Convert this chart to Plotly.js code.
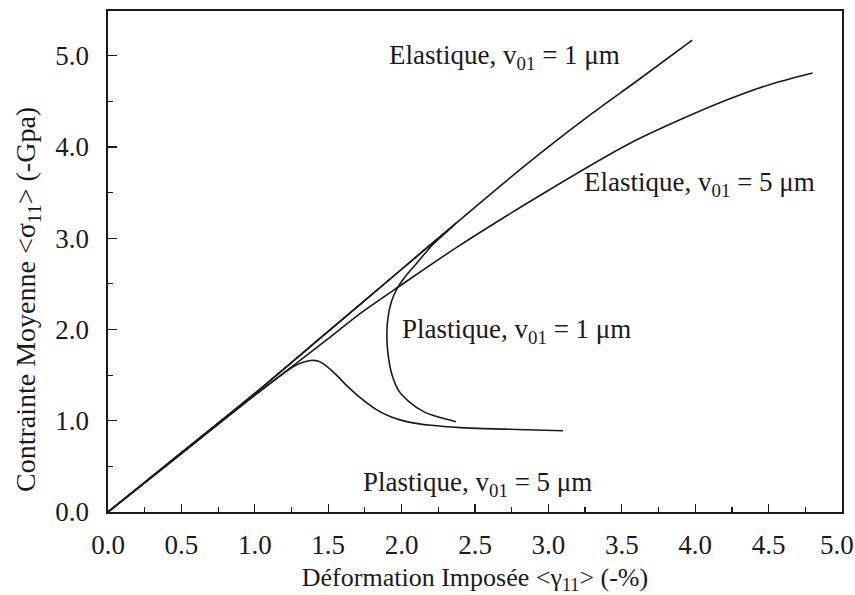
<!DOCTYPE html>
<html>
<head>
<meta charset="utf-8">
<script src="https://cdn.plot.ly/plotly-3.0.1.min.js"></script>
<style>html,body{margin:0;padding:0;background:#fff;}#chart{width:855px;height:595px;}</style>
</head>
<body>
<div id="chart"></div>
<script>
// Elastique, v01 = 1 µm
const elast1X = [0, 0.5, 1.0, 1.5, 2.0, 2.375, 2.7, 3.0, 3.3, 3.6, 3.98];
const elast1Y = [0, 0.65, 1.3, 1.98, 2.66, 3.17, 3.61, 4.0, 4.37, 4.72, 5.17];
// Elastique, v01 = 5 µm
const elast5X = [0, 0.5, 1.0, 1.26, 1.5, 1.74, 2.0, 2.375, 2.965, 3.556, 3.9, 4.24, 4.5, 4.8];
const elast5Y = [0, 0.64, 1.28, 1.6, 1.9, 2.2, 2.49, 2.9, 3.49, 4.04, 4.3, 4.53, 4.68, 4.81];
// Plastique, v01 = 1 µm
const plast1X = [0, 0.5, 1.0, 1.5, 2.0, 2.375, 2.3, 2.2, 2.1, 2.02, 1.97, 1.93, 1.905, 1.9, 1.91, 1.935, 1.98, 2.05, 2.15, 2.25, 2.37];
const plast1Y = [0, 0.65, 1.3, 1.98, 2.66, 3.17, 3.06, 2.91, 2.72, 2.57, 2.45, 2.3, 2.1, 1.9, 1.7, 1.5, 1.33, 1.21, 1.1, 1.04, 0.99];
// Plastique, v01 = 5 µm
const plast5X = [0, 0.5, 1.0, 1.26, 1.32, 1.38, 1.43, 1.48, 1.55, 1.63, 1.72, 1.82, 1.93, 2.05, 2.2, 2.4, 2.7, 3.1];
const plast5Y = [0, 0.64, 1.28, 1.59, 1.635, 1.66, 1.655, 1.61, 1.51, 1.38, 1.25, 1.13, 1.04, 0.985, 0.95, 0.925, 0.908, 0.89];

// x tick labels (the last one, at the plot's right edge, is drawn right-aligned so it stays on the page)
const xTickVals = [0, 0.5, 1.0, 1.5, 2.0, 2.5, 3.0, 3.5, 4.0, 4.5];
const xLastTick = '5.0';

const labelText = ["Elastique, v<sub>01</sub> = 1 μm", "Elastique, v<sub>01</sub> = 5 μm", "Plastique, v<sub>01</sub> = 1 μm", "Plastique, v<sub>01</sub> = 5 μm"];
const labelX = [2.70, 4.03, 2.78, 2.52];
const labelY = [4.99, 3.59, 1.98, 0.31];
const xTitle = 'Déformation Imposée &lt;γ<sub>11</sub>&gt; (-%)';
const yTitle = 'Contrainte Moyenne &lt;σ<sub>11</sub>&gt; (-Gpa)';

const lineStyle = {color: '#1a1a1a', width: 1.6, shape: 'spline', smoothing: 0.8};
const traces = [
  {x: elast1X, y: elast1Y, mode: 'lines', line: lineStyle, name: labelText[0]},
  {x: elast5X, y: elast5Y, mode: 'lines', line: lineStyle, name: labelText[1]},
  {x: plast1X, y: plast1Y, mode: 'lines', line: lineStyle, name: labelText[2]},
  {x: plast5X, y: plast5Y, mode: 'lines', line: lineStyle, name: labelText[3]}
];

const fam = '"Liberation Serif", "Times New Roman", serif';
const tickFont = {family: fam, size: 27, color: '#1a1a1a'};
const xTitleFont = {family: fam, size: 26, color: '#1a1a1a'};
const yTitleFont = {family: fam, size: 28, color: '#1a1a1a'};
const annFont = {family: fam, size: 27, color: '#1a1a1a'};

const margin = {l: 108, r: 13, t: 11, b: 83};
const W = 855, H = 595;
const plotW = W - margin.l - margin.r;
const plotH = H - margin.t - margin.b;
const pxToPaperX = px => (px - margin.l) / plotW;
const pxToPaperY = py => (H - margin.b - py) / plotH;

const annotations = labelText.map((t, i) => ({
  x: labelX[i], y: labelY[i], xref: 'x', yref: 'y', text: t, showarrow: false,
  font: annFont, xanchor: 'center', yanchor: 'middle'
}));
annotations.push({
  x: pxToPaperX(28), y: pxToPaperY(300), xref: 'paper', yref: 'paper', text: yTitle, showarrow: false,
  font: yTitleFont, textangle: -90, xanchor: 'center', yanchor: 'middle'
});
annotations.push({
  x: pxToPaperX(855), y: pxToPaperY(545), xref: 'paper', yref: 'paper', text: xLastTick, showarrow: false,
  font: tickFont, xanchor: 'right', yanchor: 'middle', borderpad: 0
});

const layout = {
  width: W, height: H,
  margin: margin,
  paper_bgcolor: '#fff', plot_bgcolor: '#fff',
  showlegend: false,
  font: tickFont,
  xaxis: {
    range: [0, 5], tickmode: 'array', tickvals: xTickVals, tickformat: '.1f',
    ticks: 'inside', ticklen: 8, tickwidth: 1.3, tickcolor: '#1a1a1a',
    minor: {dtick: 0.25, tick0: 0, ticks: 'inside', ticklen: 5, tickwidth: 1.2, tickcolor: '#1a1a1a'},
    showline: true, mirror: true, linecolor: '#1a1a1a', linewidth: 1.6,
    showgrid: false, zeroline: false, tickfont: tickFont, ticklabelstandoff: 8,
    title: {text: xTitle, font: xTitleFont, standoff: 12}
  },
  yaxis: {
    range: [0, 5.49], dtick: 1, tick0: 0, tickformat: '.1f',
    ticks: 'inside', ticklen: 9, tickwidth: 1.3, tickcolor: '#1a1a1a',
    minor: {dtick: 0.5, ticks: 'inside', ticklen: 5, tickwidth: 1.2, tickcolor: '#1a1a1a'},
    showline: true, mirror: true, linecolor: '#1a1a1a', linewidth: 1.6,
    showgrid: false, zeroline: false, tickfont: tickFont, ticklabelstandoff: 12,
    ticklabeloverflow: 'allow'
  },
  annotations: annotations
};

Plotly.newPlot('chart', traces, layout, {displayModeBar: false, staticPlot: true});
</script>
</body>
</html>
